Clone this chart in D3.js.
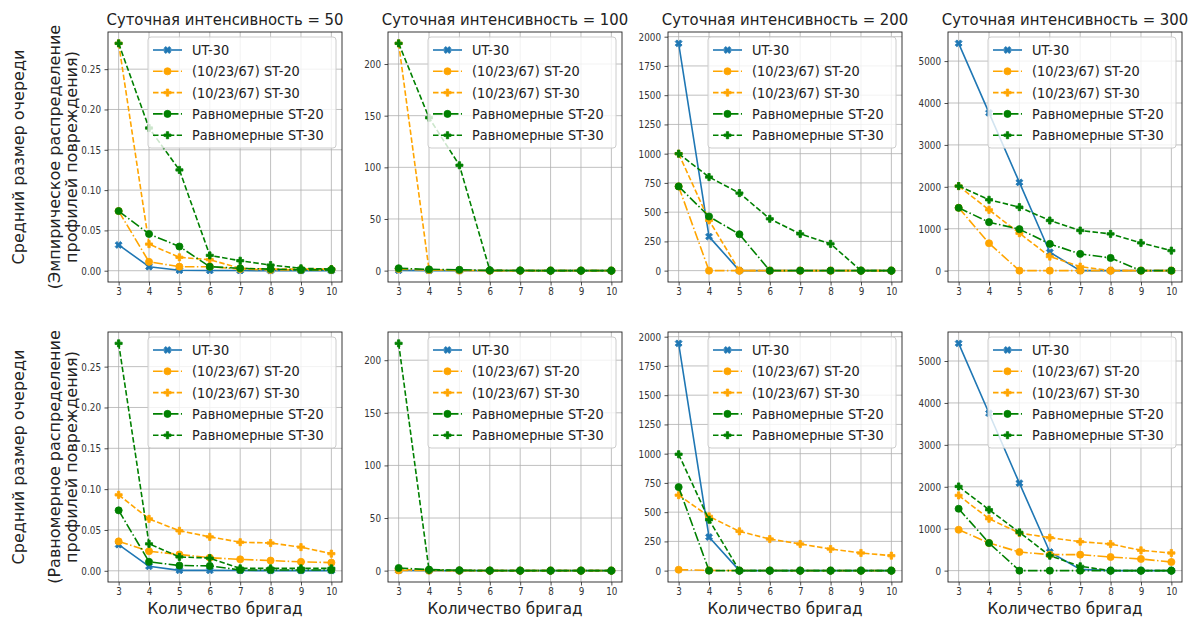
<!DOCTYPE html>
<html><head><meta charset="utf-8">
<script src="https://cdn.jsdelivr.net/npm/d3@7"></script>
<style>body{margin:0;background:#fff}svg{display:block;font-family:"DejaVu Sans",sans-serif}</style>
</head><body><svg id="c" width="1203" height="623"></svg>
<script>
// ---------- DATA ----------
const brigades = [3, 4, 5, 6, 7, 8, 9, 10];
const intensities = [50, 100, 200, 300];
const seriesNames = ["UT-30", "(10/23/67) ST-20", "(10/23/67) ST-30", "Равномерные ST-20", "Равномерные ST-30"];
const rowLabelMain = "Средний размер очереди";
const rowLabels1 = ["(Эмпирическое распределение", "(Равномерное распределение"];
const rowLabels2 = ["профилей повреждения)", "профилей повреждения)"];
const titlePrefix = "Суточная интенсивность = ";
const xLabel = "Количество бригад";

// Row 1: empirical damage-profile distribution
const emp50_ut30   = [0.032, 0.005, 0.0005, 0.0003, 0.0002, 0.0001, 0.0001, 0.0001];
const emp50_st20a  = [0.074, 0.011, 0.005, 0.005, 0.002, 0.001, 0.001, 0.001];
const emp50_st30a  = [0.282, 0.033, 0.0166, 0.0137, 0.003, 0.002, 0.002, 0.002];
const emp50_st20u  = [0.074, 0.0456, 0.030, 0.005, 0.003, 0.002, 0.001, 0.001];
const emp50_st30u  = [0.282, 0.177, 0.125, 0.019, 0.0124, 0.007, 0.003, 0.002];

const emp100_ut30  = [0.3, 0.05, 0, 0, 0, 0, 0, 0];
const emp100_st20a = [1.5, 0.5, 0.2, 0, 0, 0, 0, 0];
const emp100_st30a = [220, 0.8, 0.3, 0, 0, 0, 0, 0];
const emp100_st20u = [2.3, 1.2, 0.8, 0.2, 0.1, 0, 0, 0];
const emp100_st30u = [220, 148, 102, 0.3, 0.1, 0, 0, 0];

const emp200_ut30  = [1943, 291, 0, 0, 0, 0, 0, 0];
const emp200_st20a = [720, 0, 0, 0, 0, 0, 0, 0];
const emp200_st30a = [1000, 430, 0, 0, 0, 0, 0, 0];
const emp200_st20u = [720, 463, 311, 0, 0, 0, 0, 0];
const emp200_st30u = [1000, 800, 663, 443, 314, 229, 0, 0];

const emp300_ut30  = [5423, 3764, 2105, 439, 0, 0, 0, 0];
const emp300_st20a = [1499, 654, 0, 0, 0, 0, 0, 0];
const emp300_st30a = [2018, 1451, 893, 335, 96, 0, 0, 0];
const emp300_st20u = [1499, 1156, 989, 638, 399, 303, 0, 0];
const emp300_st30u = [2018, 1691, 1515, 1196, 957, 877, 662, 478];

// Row 2: uniform damage-profile distribution
const uni50_ut30   = [0.032, 0.0055, 0.0005, 0.0005, 0.0003, 0.0002, 0.0002, 0.0002];
const uni50_st20a  = [0.036, 0.024, 0.020, 0.016, 0.014, 0.0125, 0.011, 0.010];
const uni50_st30a  = [0.093, 0.0636, 0.049, 0.0416, 0.035, 0.034, 0.029, 0.021];
const uni50_st20u  = [0.074, 0.011, 0.0065, 0.006, 0.001, 0.001, 0.001, 0.001];
const uni50_st30u  = [0.2785, 0.033, 0.017, 0.0155, 0.003, 0.003, 0.003, 0.003];

const uni100_ut30  = [0.1, 0, 0, 0, 0, 0, 0, 0];
const uni100_st20a = [0.2, 0.1, 0, 0, 0, 0, 0, 0];
const uni100_st30a = [1.0, 0.3, 0.1, 0, 0, 0, 0, 0];
const uni100_st20u = [2.5, 1.0, 0.3, 0.1, 0, 0, 0, 0];
const uni100_st30u = [216, 0.5, 0.1, 0, 0, 0, 0, 0];

const uni200_ut30  = [1943, 287, 0, 0, 0, 0, 0, 0];
const uni200_st20a = [8, 2, 1, 1, 0, 0, 0, 0];
const uni200_st30a = [645, 464, 336, 270, 228, 185, 151, 128];
const uni200_st20u = [714, 0, 0, 0, 0, 0, 0, 0];
const uni200_st30u = [995, 435, 0, 0, 0, 0, 0, 0];

const uni300_ut30  = [5421, 3754, 2087, 444, 30, 0, 0, 0];
const uni300_st20a = [976, 659, 444, 381, 381, 325, 278, 206];
const uni300_st30a = [1794, 1238, 897, 786, 690, 635, 484, 421];
const uni300_st20u = [1476, 659, 0, 0, 0, 0, 0, 0];
const uni300_st30u = [2008, 1452, 913, 357, 103, 0, 0, 0];

const yTicks50  = [0, 0.05, 0.10, 0.15, 0.20, 0.25];
const yTicks100 = [0, 50, 100, 150, 200];
const yTicks200 = [0, 250, 500, 750, 1000, 1250, 1500, 1750, 2000];
const yTicks300 = [0, 1000, 2000, 3000, 4000, 5000];

// ---------- assembling ----------
const panels = [
  [[emp50_ut30, emp50_st20a, emp50_st30a, emp50_st20u, emp50_st30u],
   [emp100_ut30, emp100_st20a, emp100_st30a, emp100_st20u, emp100_st30u],
   [emp200_ut30, emp200_st20a, emp200_st30a, emp200_st20u, emp200_st30u],
   [emp300_ut30, emp300_st20a, emp300_st30a, emp300_st20u, emp300_st30u]],
  [[uni50_ut30, uni50_st20a, uni50_st30a, uni50_st20u, uni50_st30u],
   [uni100_ut30, uni100_st20a, uni100_st30a, uni100_st20u, uni100_st30u],
   [uni200_ut30, uni200_st20a, uni200_st30a, uni200_st20u, uni200_st30u],
   [uni300_ut30, uni300_st20a, uni300_st30a, uni300_st20u, uni300_st30u]]
];
const yTicksList = [yTicks50, yTicks100, yTicks200, yTicks300];

// ---------- styles ----------
const colors = ["#1f77b4", "#ffa500", "#ffa500", "#008000", "#008000"];
const dashes = [null, "9.6,2.4,1.5,2.4", "5.5,2.4", "9.6,2.4,1.5,2.4", "5.5,2.4"];
const markers = ["X", "o", "P", "o", "P"];
const colLeft = [108, 388, 668, 948];
const rowTop = [32, 332];
const W = 234, H = 250;

const svg = d3.select("#c");

function symPath(m) {
  if (m === "o") return d3.symbol(d3.symbolCircle, 40)();
  if (m === "X") return d3.symbol(d3.symbolCross, 30)();
  return d3.symbol(d3.symbolCross, 28)();
}
function drawMarker(g, m, x, y, color) {
  g.append("path").attr("d", symPath(m))
    .attr("transform", `translate(${x},${y})` + (m === "X" ? " rotate(45)" : ""))
    .attr("fill", color).attr("stroke", color).attr("stroke-width", 0.8)
    .attr("stroke-linejoin", "round");
}
function txt(g, x, y, s, size, anchor, sx, color) {
  return g.append("text").attr("transform", `translate(${x},${y}) scale(${sx},1)`)
    .attr("font-size", size).attr("text-anchor", anchor).attr("fill", color || "#000").text(s);
}

panels.forEach((row, r) => {
  row.forEach((series, c) => {
    const L = colLeft[c], T = rowTop[r];
    const g = svg.append("g");
    const x = d3.scaleLinear().domain([2.65, 10.35]).range([L, L + W]);
    const all = series.flat();
    const mn = d3.min(all), mx = d3.max(all), pad = (mx - mn) * 0.05;
    const y = d3.scaleLinear().domain([mn - pad, mx + pad]).range([T + H, T]);
    const yt = yTicksList[c];
    const fmt = c === 0 ? d3.format(".2f") : d3.format("d");

    // grid
    g.selectAll(null).data(brigades).join("line")
      .attr("x1", d => x(d)).attr("x2", d => x(d)).attr("y1", T).attr("y2", T + H)
      .attr("stroke", "#b0b0b0").attr("stroke-width", 0.8);
    g.selectAll(null).data(yt).join("line")
      .attr("y1", d => y(d)).attr("y2", d => y(d)).attr("x1", L).attr("x2", L + W)
      .attr("stroke", "#b0b0b0").attr("stroke-width", 0.8);

    // axes (ticks)
    const xa = g.append("g").attr("transform", `translate(0,${T + H})`)
      .call(d3.axisBottom(x).tickValues(brigades).tickSize(3.5).tickPadding(2).tickFormat(d3.format("d")));
    const ya = g.append("g").attr("transform", `translate(${L},0)`)
      .call(d3.axisLeft(y).tickValues(yt).tickSize(3.5).tickPadding(3.5).tickFormat(fmt));
    [xa, ya].forEach(a => {
      a.select(".domain").remove();
      a.selectAll(".tick line").attr("stroke", "#222").attr("stroke-width", 0.8);
      a.selectAll(".tick text").attr("font-size", 10.5).attr("fill", "#333")
        .attr("font-family", "DejaVu Sans");
    });
    xa.selectAll(".tick text").attr("transform", "scale(0.84,1)");
    ya.selectAll(".tick text").each(function () {
      const t = d3.select(this); const xx = +t.attr("x");
      t.attr("transform", `translate(${xx},0) scale(0.84,1)`).attr("x", 0);
    });

    // series
    series.forEach((vals, i) => {
      const line = d3.line().x((d, k) => x(brigades[k])).y(d => y(d));
      g.append("path").attr("d", line(vals)).attr("fill", "none")
        .attr("stroke", colors[i]).attr("stroke-width", 1.6)
        .attr("stroke-dasharray", dashes[i]).attr("stroke-linejoin", "round");
      vals.forEach((v, k) => drawMarker(g, markers[i], x(brigades[k]), y(v), colors[i]));
    });

    // spines
    g.append("rect").attr("x", L).attr("y", T).attr("width", W).attr("height", H)
      .attr("fill", "none").attr("stroke", "#222").attr("stroke-width", 0.9);

    // legend
    const lw = 188, lh = 111, lx = L + W - 6 - lw, ly = T + 5;
    const lg = g.append("g");
    lg.append("rect").attr("x", lx).attr("y", ly).attr("width", lw).attr("height", lh)
      .attr("rx", 3).attr("fill", "#fff").attr("fill-opacity", 0.8)
      .attr("stroke", "#cccccc").attr("stroke-width", 1);
    seriesNames.forEach((name, i) => {
      const cy = ly + 13 + i * 21.3;
      lg.append("line").attr("x1", lx + 5).attr("x2", lx + 34).attr("y1", cy).attr("y2", cy)
        .attr("stroke", colors[i]).attr("stroke-width", 1.6).attr("stroke-dasharray", dashes[i]);
      drawMarker(lg, markers[i], lx + 19.5, cy, colors[i]);
      txt(lg, lx + 44, cy + 5, name, 14, "start", 0.92, "#222");
    });

    // titles
    if (r === 0) txt(svg, L + W / 2, T - 7, titlePrefix + intensities[c], 16, "middle", 0.93, "#222");
    if (r === 1) txt(svg, L + W / 2, 614, xLabel, 16, "middle", 0.95, "#222");
  });

  // row labels
  const cy = rowTop[r] + H / 2;
  [[18, rowLabelMain], [54, rowLabels1[r]], [71, rowLabels2[r]]].forEach(([xx, s]) => {
    svg.append("text").attr("transform", `translate(${xx},${cy}) rotate(-90)`)
      .attr("text-anchor", "middle").attr("dominant-baseline", "central")
      .attr("font-size", 16).attr("fill", "#222").text(s);
  });
});
</script></body></html>
